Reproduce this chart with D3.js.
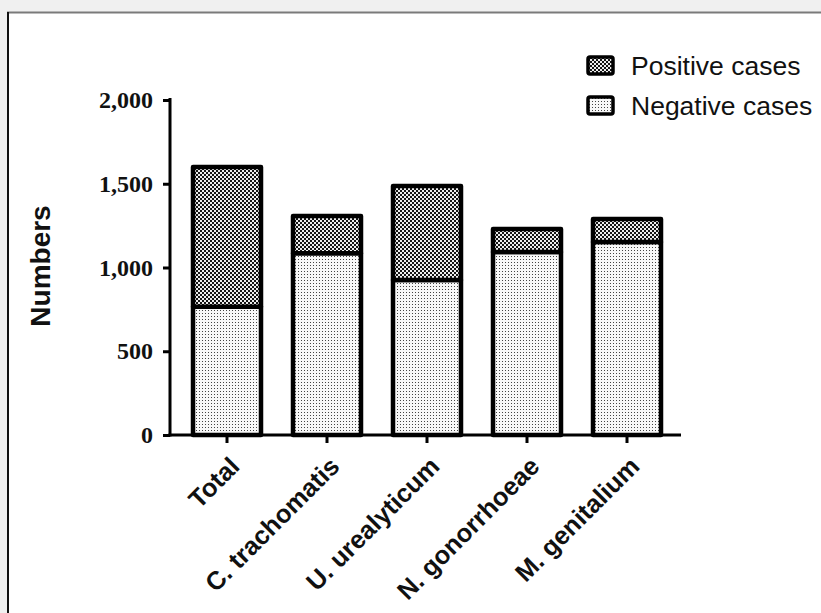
<!DOCTYPE html>
<html>
<head>
<meta charset="utf-8">
<script src="https://cdn.jsdelivr.net/npm/d3@7"></script>
<style>
  html, body { margin: 0; padding: 0; background: #f0f0f0; }
  svg { display: block; }
</style>
</head>
<body>
<svg id="chart" width="821" height="613"></svg>
<script>
// Stacked counts per pathogen
const categories = ["Total", "C. trachomatis", "U. urealyticum", "N. gonorrhoeae", "M. genitalium"];
const negativeCases = [765, 1085, 925, 1093, 1152];
const positiveCases = [835, 222, 562, 137, 138];
const seriesNames = ["Positive cases", "Negative cases"];
const yTicks = [0, 500, 1000, 1500, 2000];

const svg = d3.select("#chart");

// White panel with its frame
svg.append("rect").attr("x", 7).attr("y", 12).attr("width", 814).attr("height", 601).attr("fill", "#fff");
svg.append("line").attr("x1", 7).attr("x2", 821).attr("y1", 12.5).attr("y2", 12.5)
  .attr("stroke", "#7a7a7a").attr("stroke-width", 2);
svg.append("line").attr("x1", 8).attr("x2", 8).attr("y1", 12).attr("y2", 613)
  .attr("stroke", "#111").attr("stroke-width", 2);

// Fill patterns
const defs = svg.append("defs");
const pos = defs.append("pattern").attr("id", "posFill").attr("patternUnits", "userSpaceOnUse")
  .attr("width", 4).attr("height", 4);
pos.append("rect").attr("width", 4).attr("height", 4).attr("fill", "#151515");
pos.append("rect").attr("x", 0).attr("y", 0).attr("width", 2).attr("height", 2).attr("fill", "#eeeeee");
pos.append("rect").attr("x", 2).attr("y", 2).attr("width", 2).attr("height", 2).attr("fill", "#eeeeee");

const neg = defs.append("pattern").attr("id", "negFill").attr("patternUnits", "userSpaceOnUse")
  .attr("width", 3).attr("height", 3);
neg.append("rect").attr("width", 3).attr("height", 3).attr("fill", "#f8f8f8");
neg.append("rect").attr("x", 1).attr("y", 1).attr("width", 1).attr("height", 1).attr("fill", "#444");

const x = d3.scaleBand().domain(categories).range([177, 677]).paddingInner(0.32).paddingOuter(0.16);
const y = d3.scaleLinear().domain([0, 2000]).range([435, 100]);

const rows = categories.map((c, i) => ({ cat: c, neg: negativeCases[i], pos: positiveCases[i] }));

// Bars: negative segment at the base, positive stacked on top
const bars = svg.append("g");
bars.selectAll("rect.neg").data(rows).join("rect")
  .attr("class", "neg")
  .attr("x", d => x(d.cat)).attr("width", x.bandwidth())
  .attr("y", d => y(d.neg)).attr("height", d => y(0) - y(d.neg))
  .attr("fill", "url(#negFill)").attr("stroke", "#000").attr("stroke-width", 4.5)
  .attr("stroke-linejoin", "round");
bars.selectAll("rect.pos").data(rows).join("rect")
  .attr("class", "pos")
  .attr("x", d => x(d.cat)).attr("width", x.bandwidth())
  .attr("y", d => y(d.neg + d.pos)).attr("height", d => y(d.neg) - y(d.neg + d.pos))
  .attr("fill", "url(#posFill)").attr("stroke", "#000").attr("stroke-width", 4.5)
  .attr("stroke-linejoin", "round");

// Y axis
const yAxis = d3.axisLeft(y).tickValues(yTicks).tickFormat(d3.format(",")).tickSizeOuter(0).tickSize(7).tickPadding(10);
const gy = svg.append("g").attr("transform", "translate(170,0)").call(yAxis);
gy.select(".domain").attr("stroke", "#000").attr("stroke-width", 3).attr("d", "M0,98V436.5");
gy.selectAll(".tick line").attr("stroke", "#000").attr("stroke-width", 3);
gy.selectAll(".tick text")
  .attr("font-family", "'Liberation Serif', 'Times New Roman', serif")
  .attr("font-weight", "bold").attr("font-size", 24).attr("fill", "#111");

// X axis
const xAxis = d3.axisBottom(x).tickSizeOuter(0).tickSize(8).tickFormat("");
const gx = svg.append("g").attr("transform", "translate(0,435)").call(xAxis);
gx.select(".domain").attr("stroke", "#000").attr("stroke-width", 3).attr("d", "M168.5,0H681");
gx.selectAll(".tick line").attr("stroke", "#000").attr("stroke-width", 3);

// Rotated category labels
svg.append("g").selectAll("text").data(categories).join("text")
  .attr("transform", d => `translate(${x(d) + x.bandwidth() / 2 + 14},${468}) rotate(-45)`)
  .attr("text-anchor", "end")
  .attr("font-family", "'Liberation Sans', Arial, sans-serif")
  .attr("font-weight", "bold").attr("font-size", 25.5).attr("fill", "#111")
  .text(d => d);

// Y axis title
svg.append("text")
  .attr("transform", "translate(50,266) rotate(-90)")
  .attr("text-anchor", "middle")
  .attr("font-family", "'Liberation Sans', Arial, sans-serif")
  .attr("font-weight", "bold").attr("font-size", 28).attr("fill", "#111")
  .text("Numbers");

// Legend
const legend = svg.append("g").selectAll("g").data(seriesNames).join("g")
  .attr("transform", (d, i) => `translate(588,${57 + i * 40})`);
legend.append("rect")
  .attr("width", 25).attr("height", 17).attr("rx", 2)
  .attr("fill", (d, i) => i === 0 ? "url(#posFill)" : "url(#negFill)")
  .attr("stroke", "#000").attr("stroke-width", 3.5);
legend.append("text")
  .attr("x", 43).attr("y", 18)
  .attr("font-family", "'Liberation Sans', Arial, sans-serif")
  .attr("font-size", 26.5).attr("fill", "#111")
  .text(d => d);
</script>
</body>
</html>
